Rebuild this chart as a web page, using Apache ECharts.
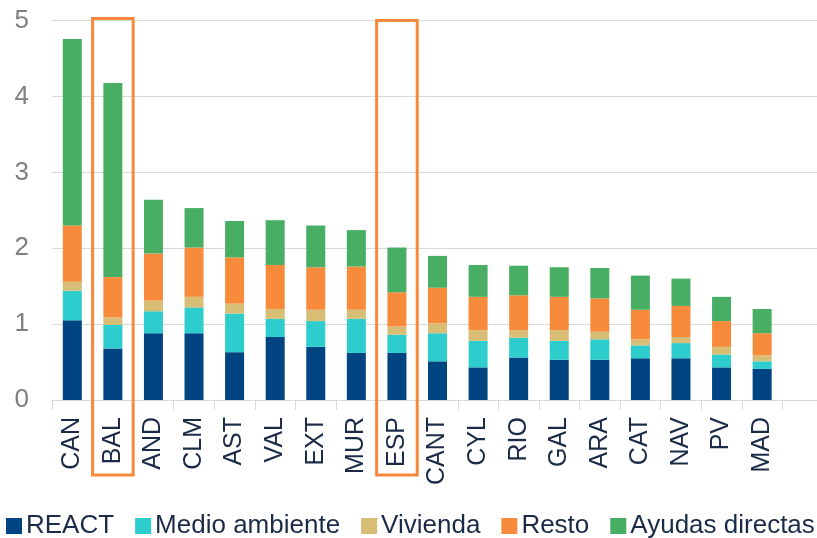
<!DOCTYPE html>
<html>
<head>
<meta charset="utf-8">
<script src="https://cdn.jsdelivr.net/npm/echarts@6/dist/echarts.min.js"></script>
<style>
  html, body { margin: 0; padding: 0; background: #fff; }
  #chart { width: 817px; height: 538px; }
</style>
</head>
<body>
<div id="chart"></div>
<script>
  const regions = ['CAN', 'BAL', 'AND', 'CLM', 'AST', 'VAL', 'EXT', 'MUR', 'ESP', 'CANT', 'CYL', 'RIO', 'GAL', 'ARA', 'CAT', 'NAV', 'PV', 'MAD'];
  const react = [1.05, 0.68, 0.88, 0.88, 0.63, 0.83, 0.70, 0.62, 0.62, 0.51, 0.43, 0.56, 0.53, 0.53, 0.55, 0.55, 0.43, 0.41];
  const medioAmbiente = [0.39, 0.31, 0.29, 0.34, 0.51, 0.24, 0.34, 0.45, 0.24, 0.37, 0.35, 0.26, 0.25, 0.27, 0.17, 0.20, 0.17, 0.10];
  const vivienda = [0.12, 0.10, 0.14, 0.14, 0.13, 0.13, 0.15, 0.12, 0.11, 0.13, 0.14, 0.10, 0.14, 0.10, 0.08, 0.08, 0.10, 0.08];
  const resto = [0.74, 0.53, 0.62, 0.65, 0.61, 0.58, 0.56, 0.57, 0.45, 0.47, 0.44, 0.46, 0.44, 0.44, 0.39, 0.41, 0.34, 0.29];
  const ayudas = [2.46, 2.56, 0.71, 0.52, 0.48, 0.59, 0.55, 0.48, 0.59, 0.42, 0.42, 0.39, 0.39, 0.40, 0.45, 0.36, 0.32, 0.32];
  const yTicks = [0, 1, 2, 3, 4, 5];
  const highlighted = ['BAL', 'ESP'];

  const font = 'Liberation Sans, Arial, sans-serif';
  const navy = '#1b2b47';

  let myChart = echarts.init(document.getElementById('chart'));

  function bar(name, data, color) {
    return {
      name: name,
      type: 'bar',
      stack: 'total',
      barWidth: 19,
      data: data,
      itemStyle: { color: color },
      emphasis: { disabled: true }
    };
  }

  myChart.setOption({
    animation: false,
    backgroundColor: '#fff',
    grid: {
      left: 52,
      top: 20.7,
      width: 771,
      height: 379.3,
      outerBoundsMode: 'none'
    },
    legend: {
      left: 6,
      top: 513,
      width: 815,
      icon: 'rect',
      itemWidth: 16,
      itemHeight: 16,
      itemGap: 21,
      padding: 0,
      textStyle: {
        fontFamily: font,
        fontSize: 26,
        color: navy,
        padding: [0, 0, 0, -1]
      },
      data: ['REACT', 'Medio ambiente', 'Vivienda', 'Resto', 'Ayudas directas']
    },
    xAxis: {
      type: 'category',
      data: regions.concat(['']),
      axisLine: { lineStyle: { color: '#d9d9d9', width: 1 } },
      axisTick: { show: true, length: 10, lineStyle: { color: '#d9d9d9' } },
      axisLabel: {
        rotate: 90,
        margin: 17,
        interval: 0,
        fontFamily: font,
        fontSize: 25,
        color: navy
      }
    },
    yAxis: {
      type: 'value',
      min: yTicks[0],
      max: yTicks[yTicks.length - 1],
      interval: 1,
      axisLine: { show: false },
      axisTick: { show: false },
      splitLine: { lineStyle: { color: '#d9d9d9', width: 1 } },
      axisLabel: {
        margin: 23,
        fontFamily: font,
        fontSize: 26,
        color: '#7f7f7f'
      }
    },
    series: [
      bar('REACT', react, '#004481'),
      bar('Medio ambiente', medioAmbiente, '#2dcccd'),
      bar('Vivienda', vivienda, '#d8be75'),
      bar('Resto', resto, '#f78b3b'),
      bar('Ayudas directas', ayudas, '#48ae64')
    ]
  });

  // orange boxes around the highlighted categories
  const step = myChart.convertToPixel({ xAxisIndex: 0 }, regions[1]) - myChart.convertToPixel({ xAxisIndex: 0 }, regions[0]);
  const boxes = highlighted.map((name, i) => {
    const cx = myChart.convertToPixel({ xAxisIndex: 0 }, name);
    const top = i === 0 ? 18.5 : 20.5;
    return {
      type: 'rect',
      z: 100,
      shape: { x: cx - step / 2, y: top, width: step, height: 475 - top },
      style: { fill: 'none', stroke: '#f7893b', lineWidth: 3 }
    };
  });
  myChart.setOption({ graphic: boxes });
</script>
</body>
</html>
